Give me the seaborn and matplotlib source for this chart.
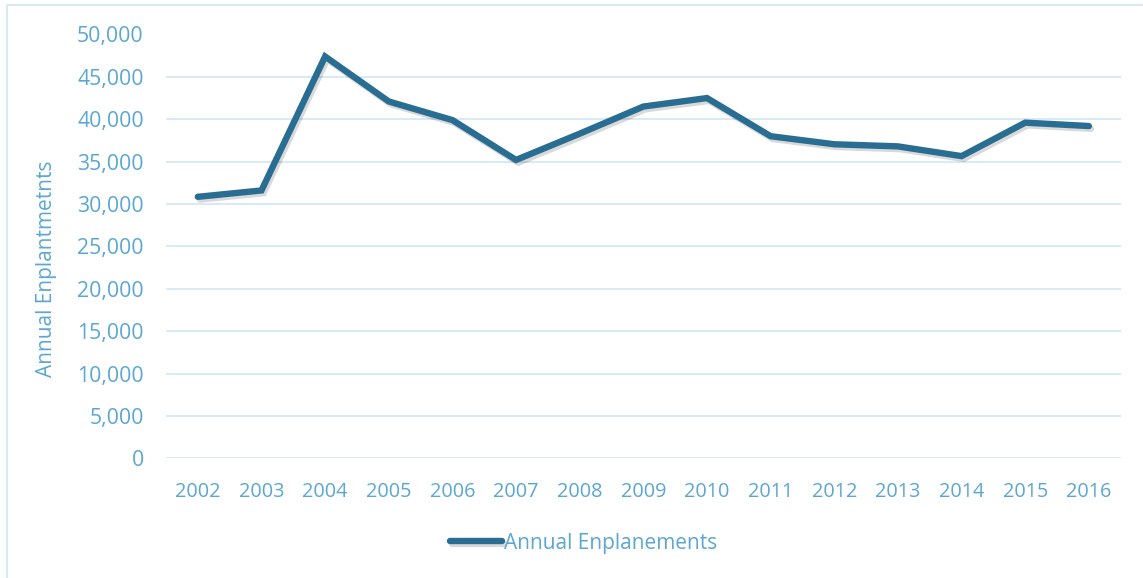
import matplotlib
matplotlib.use("Agg")
import matplotlib.pyplot as plt
import matplotlib.patheffects as pe
from matplotlib.patches import Rectangle
from matplotlib.ticker import FuncFormatter
import seaborn as sns
import pandas as pd

years = ["2002", "2003", "2004", "2005", "2006", "2007", "2008", "2009",
         "2010", "2011", "2012", "2013", "2014", "2015", "2016"]
enplanements = [30850, 31600, 47400, 42100, 39900, 35200, 38300, 41500,
                42500, 38000, 37050, 36800, 35650, 39600, 39200]
series_name = "Annual Enplanements"
y_label = "Annual Enplantmetnts"
y_ticks = [0, 5000, 10000, 15000, 20000, 25000, 30000, 35000, 40000, 45000, 50000]

df = pd.DataFrame({"Year": years, "Value": enplanements, "Series": series_name})

sns.set_theme(style="white")
plt.rcParams["font.family"] = ["Open Sans", "DejaVu Sans"]

TEXT = "#5ba7d3"
LINE = "#296e92"
GRID = "#d9e9f6"

fig = plt.figure(figsize=(11.43, 5.78), dpi=100)
fig.patches.append(Rectangle((7 / 1143, -0.1), 1.2, 1.1 - 5.5 / 578, transform=fig.transFigure,
                             fill=False, edgecolor=GRID, linewidth=1.5, zorder=0))
ax_w = (1120.7 - 166)
ax_h = (458.3 - 34.5)
ax = fig.add_axes([166 / 1143, 1 - 458.3 / 578, ax_w / 1143, ax_h / 578])

sns.lineplot(data=df, x="Year", y="Value", hue="Series", palette=[LINE], ax=ax,
             linewidth=4.6, sort=False, solid_capstyle="round", solid_joinstyle="miter",
             path_effects=[pe.SimpleLineShadow(offset=(1.5, -2), alpha=0.15, shadow_color="black"),
                           pe.Normal()])

ax.set_xlim(-0.5, len(years) - 0.5)
ax.set_ylim(0, 50000)
ax.set_yticks(y_ticks)
ax.yaxis.set_major_formatter(FuncFormatter(lambda v, p: f"{int(v):,}"))
ax.grid(axis="y", color=GRID, linewidth=1.5)
ax.grid(axis="x", visible=False)
for s in ax.spines.values():
    s.set_visible(False)
ax.tick_params(axis="x", length=0, pad=17, labelsize=14.3, labelcolor=TEXT)
ax.tick_params(axis="y", length=0, pad=16, labelsize=15.3, labelcolor=TEXT)
ax.set_xlabel("")
ax.set_ylabel(y_label, color=TEXT, fontsize=15)
ax.yaxis.set_label_coords(-(166 - 47) / ax_w, (458.3 - 269) / ax_h)
ax.yaxis.label.set_verticalalignment("center")

leg = ax.legend(loc="center", bbox_to_anchor=(584 / 1143, 1 - 543 / 578), bbox_transform=fig.transFigure,
                frameon=False, fontsize=15, handlelength=2.5, handletextpad=0.1)
for t in leg.get_texts():
    t.set_color(TEXT)
for h in leg.get_lines():
    h.set_linewidth(4.6)
    h.set_solid_capstyle("round")

fig.savefig("out.png", dpi=100)
